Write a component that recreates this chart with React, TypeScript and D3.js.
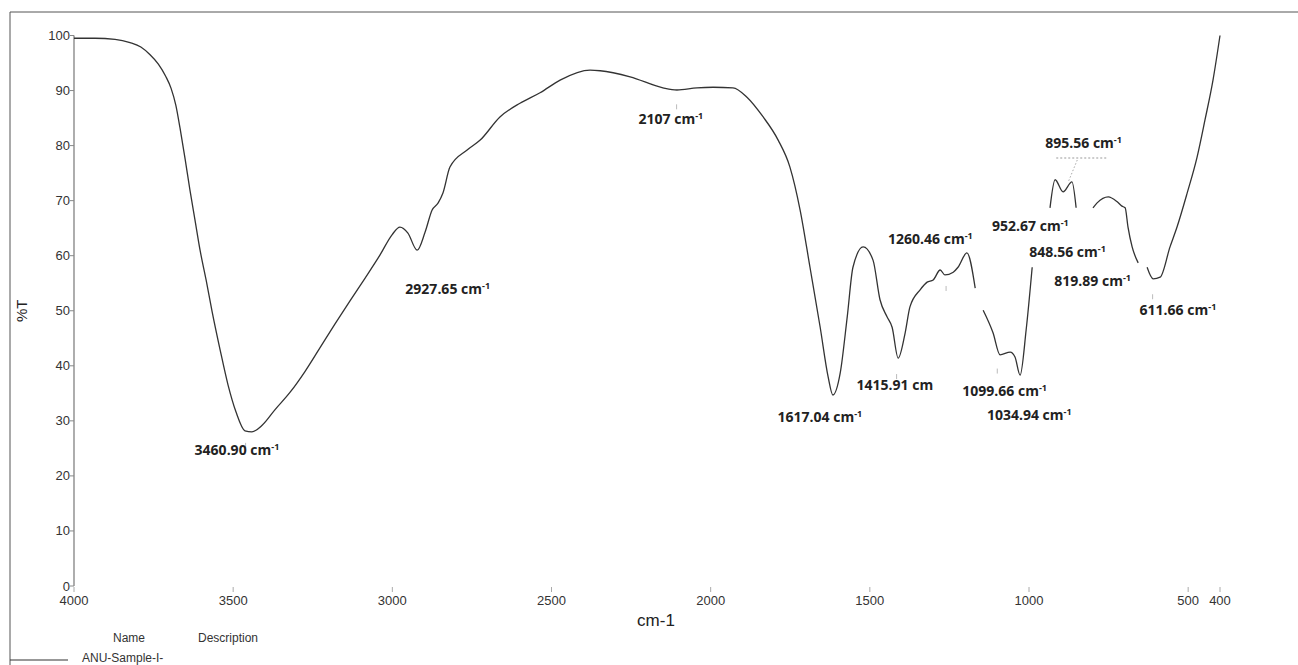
import React from 'react'
import * as d3 from 'd3'

// FTIR spectrum: [wavenumber cm-1, %T]
const seg1: [number, number][] = [
  [4000, 99.5], [3934, 99.5], [3871, 99.3], [3824, 98.7], [3790, 97.9], [3761, 96.5],
  [3735, 94.8], [3712, 92.6], [3695, 90.4], [3680, 87.3], [3667, 83.2], [3651, 77.6],
  [3636, 72.0], [3620, 66.5], [3604, 61.0], [3585, 55.6], [3566, 49.8], [3541, 42.9],
  [3516, 36.5], [3491, 31.6], [3463, 28.2], [3441, 28.0], [3409, 29.2], [3369, 32.0],
  [3321, 35.2], [3274, 39.0], [3227, 43.3], [3180, 47.6], [3133, 51.8], [3086, 55.9],
  [3039, 60.1], [3001, 63.8], [2976, 65.2], [2951, 64.1], [2922, 61.0], [2897, 64.3],
  [2875, 68.3], [2856, 69.6], [2841, 71.4], [2819, 76.1], [2765, 79.2], [2724, 81.0],
  [2662, 85.2], [2599, 87.7], [2536, 89.6], [2473, 91.9], [2379, 93.7], [2347, 93.6],
  [2253, 92.5], [2150, 90.5], [2106, 90.1], [2043, 90.5], [1992, 90.6], [1930, 90.5],
  [1886, 88.8], [1835, 85.2], [1788, 81.0], [1751, 76.1], [1719, 68.3], [1688, 57.9],
  [1656, 47.0], [1631, 38.0], [1616, 34.7], [1593, 38.7], [1571, 48.9], [1553, 57.9],
  [1521, 61.6], [1490, 59.2], [1468, 52.0], [1446, 48.9], [1430, 47.0], [1411, 41.4],
  [1389, 46.0], [1374, 50.7], [1342, 53.8], [1320, 55.2], [1301, 55.6], [1279, 57.4],
  [1264, 56.5], [1238, 57.0], [1223, 57.9], [1195, 60.5], [1169, 54.1],
]
const seg2: [number, number][] = [
  [1144, 50.1], [1113, 46.0], [1091, 42.0], [1059, 42.5], [1044, 41.6], [1028, 38.3],
  [1009, 46.5], [990, 57.9],
]
const seg3: [number, number][] = [
  [934, 68.7], [918, 73.8], [893, 71.6], [865, 73.4], [852, 68.7],
]
const seg4: [number, number][] = [
  [799, 68.7], [786, 69.6], [751, 70.7], [723, 69.8], [708, 69.0], [698, 68.7],
  [689, 65.2], [676, 61.6], [657, 58.7],
]
const seg5: [number, number][] = [
  [629, 57.9], [610, 55.8], [588, 56.1], [557, 61.6], [535, 65.2], [503, 71.4],
  [472, 77.9], [447, 84.7], [422, 91.9], [400, 100],
]
const segments = [seg1, seg2, seg3, seg4, seg5]

const xTicks = [4000, 3500, 3000, 2500, 2000, 1500, 1000, 500, 400]
const yTicks = [0, 10, 20, 30, 40, 50, 60, 70, 80, 90, 100]

const peakValues = ['3460.90', '2927.65', '2107', '1617.04', '1415.91', '1260.46', '1099.66',
  '1034.94', '952.67', '848.56', '819.89', '895.56', '611.66']

// faint peak pick marks: [wavenumber, %T]
const pickMarks: [number, number][] = [
  [2107, 87.5], [1415.91, 38.5], [1260.46, 54.5], [1099.66, 39.5], [611.66, 53.0], [3460.9, 26.0],
]

// label layout: offset from the peak's x, absolute baseline
const labelLayout: Record<string, { dx: number; y: number; sup?: boolean }> = {
  '3460.90': { dx: -51, y: 455 },
  '2927.65': { dx: -10, y: 294 },
  '2107': { dx: -38, y: 124 },
  '1617.04': { dx: -55, y: 422 },
  '1415.91': { dx: -40, y: 390, sup: false },
  '1260.46': { dx: -58, y: 244 },
  '1099.66': { dx: -35, y: 396 },
  '1034.94': { dx: -31, y: 420 },
  '952.67': { dx: -52, y: 231 },
  '848.56': { dx: -48, y: 257 },
  '819.89': { dx: -32, y: 286 },
  '895.56': { dx: -17, y: 148 },
  '611.66': { dx: -13, y: 315 },
}

export default function App() {
  const W = 1298
  const H = 665
  const x = d3.scaleLinear().domain([4000, 400]).range([74, 1220])
  const y = d3.scaleLinear().domain([0, 100]).range([586, 35.5])

  const line = d3.line<[number, number]>()
    .x(d => x(d[0]))
    .y(d => y(d[1]))
    .curve(d3.curveMonotoneX)

  const axisFont = '"Liberation Sans", Arial, sans-serif'
  const labelFont = '"Open Sans", "Noto Sans", sans-serif'

  return (
    <svg width={W} height={H} style={{ position: 'absolute', left: 0, top: 0, background: '#fff' }}>
      {/* outer frame */}
      <line x1={10} y1={12} x2={W} y2={12} stroke="#555" strokeWidth={1} />
      <line x1={10} y1={12} x2={10} y2={H} stroke="#555" strokeWidth={1} />

      {/* y axis */}
      <line x1={x(4000)} y1={y(100)} x2={x(4000)} y2={y(0)} stroke="#777" strokeWidth={1.2} />
      {yTicks.map(t => (
        <g key={t}>
          <line x1={x(4000) - 4} x2={x(4000)} y1={y(t)} y2={y(t)} stroke="#888" />
          <text x={x(4000) - 4} y={y(t) + 4.5} textAnchor="end" fontFamily={axisFont} fontSize={13} fill="#333">{t}</text>
        </g>
      ))}

      {/* x axis labels */}
      {xTicks.map(t => (
        <g key={t}>
          <line x1={x(t)} x2={x(t)} y1={y(0) + 1} y2={y(0) + 6} stroke="#aaa" />
          <text x={x(t)} y={y(0) + 19} textAnchor="middle" fontFamily={axisFont} fontSize={13} fill="#333">{t}</text>
        </g>
      ))}

      <text x={656} y={626} textAnchor="middle" fontFamily={axisFont} fontSize={17} fill="#222">cm-1</text>
      <text transform={`translate(27,${y(50)}) rotate(-90)`} textAnchor="middle" fontFamily={axisFont} fontSize={15} fill="#222">%T</text>

      {/* spectrum */}
      {segments.map((s, i) => (
        <path key={i} d={line(s) || ''} fill="none" stroke="#333" strokeWidth={1.3} />
      ))}

      {/* faint pick marks */}
      {pickMarks.map(([w, t], i) => (
        <line key={i} x1={x(w)} x2={x(w)} y1={y(t)} y2={y(t) + 5} stroke="#bbb" />
      ))}

      {/* peak annotations */}
      {peakValues.map(v => {
        const l = labelLayout[v]
        const px = x(+v) + l.dx
        return (
          <text key={v} x={px} y={l.y} fontFamily={labelFont} fontWeight={700} fontSize={14} fill="#222">
            {v} cm{l.sup === false ? '' : <tspan fontSize={9} dy={-5}>-1</tspan>}
          </text>
        )
      })}

      {/* leader for 895.56 */}
      <line x1={x(895.56) - 6} x2={x(895.56) + 45} y1={158} y2={158} stroke="#999" strokeDasharray="2,2" />
      <line x1={x(895.56) + 15} x2={x(895.56) + 6} y1={160} y2={182} stroke="#aaa" strokeDasharray="1.5,2" />

      {/* legend */}
      <text x={129} y={642} textAnchor="middle" fontFamily={axisFont} fontSize={12} fill="#333">Name</text>
      <text x={228} y={642} textAnchor="middle" fontFamily={axisFont} fontSize={12} fill="#333">Description</text>
      <line x1={10} x2={68} y1={660} y2={660} stroke="#333" strokeWidth={1.2} />
      <text x={82} y={662} fontFamily={axisFont} fontSize={12} fill="#333">ANU-Sample-I-</text>
    </svg>
  )
}
